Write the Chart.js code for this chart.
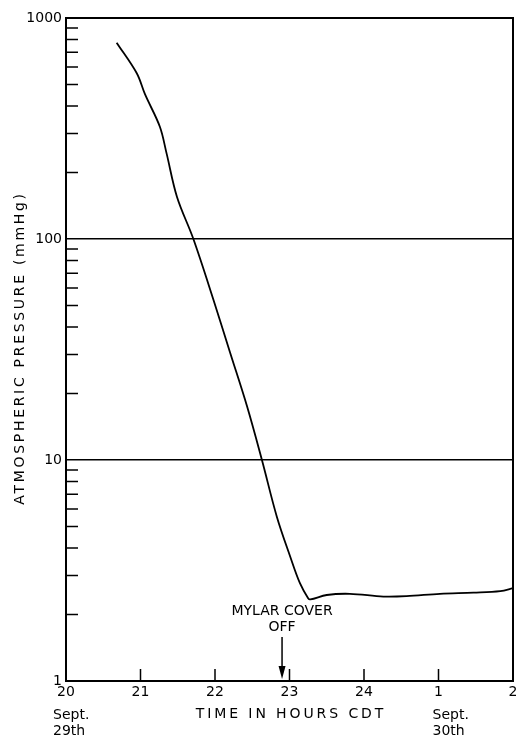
<!DOCTYPE html>
<html><head><meta charset="utf-8">
<script src="https://cdn.jsdelivr.net/npm/chart.js@4/dist/chart.umd.min.js"></script>
<style>html,body{margin:0;padding:0;background:#fff}</style>
</head><body>
<canvas id="c" width="516" height="738"></canvas>
<script>
// Time in hours CDT (24 = midnight, 25 = 1 on Sept. 30th, 26 = 2)
const timeHours = [20.68, 20.95, 21.06, 21.26, 21.35, 21.49, 21.71, 21.98, 22.20, 22.43, 22.63, 22.83, 23.01, 23.14, 23.25, 23.28, 23.50, 23.81, 24.26, 24.57, 25.02, 25.47, 25.83, 26.0];
// Atmospheric pressure (mmHg)
const pressure = [773, 562, 452, 322, 244, 155, 100, 53, 30.8, 17.5, 10, 5.54, 3.65, 2.77, 2.37, 2.34, 2.45, 2.48, 2.41, 2.42, 2.48, 2.51, 2.55, 2.63];
const xTickLabels = ['20', '21', '22', '23', '24', '1', '2'];
const yTickLabels = ['1', '10', '100', '1000'];
const dateLabels = [['Sept.', '29th'], ['Sept.', '30th']];
const dateLabelTimes = [20, 25];
const arrowTime = 22.9;
const annotationLines = ['MYLAR COVER', 'OFF'];
const xTitle = 'TIME IN HOURS CDT';
const yTitle = 'ATMOSPHERIC PRESSURE (mmHg)';

const FONT = '"DejaVu Sans", Verdana, sans-serif';

const extras = {
  id: 'extras',
  afterDraw(chart) {
    const ctx = chart.ctx, ca = chart.chartArea;
    const xs = chart.scales.x, ys = chart.scales.y;
    ctx.save();
    ctx.strokeStyle = '#000'; ctx.fillStyle = '#000';
    // top & right frame
    ctx.lineWidth = 2;
    ctx.beginPath();
    ctx.moveTo(ca.left, ca.top); ctx.lineTo(ca.right, ca.top); ctx.lineTo(ca.right, ca.bottom);
    ctx.stroke();
    // inward minor ticks on y
    ctx.lineWidth = 1.5;
    ctx.beginPath();
    for (let k = 0; k < 3; k++) {
      for (let d = 2; d <= 9; d++) {
        const y = ys.getPixelForValue(d * Math.pow(10, k));
        ctx.moveTo(ca.left, y); ctx.lineTo(ca.left + 12, y);
      }
    }
    // inward ticks on x
    for (let v = 21; v <= 25; v++) {
      const x = xs.getPixelForValue(v);
      ctx.moveTo(x, ca.bottom); ctx.lineTo(x, ca.bottom - 12);
    }
    ctx.stroke();
    // arrow
    const ax = xs.getPixelForValue(arrowTime);
    ctx.beginPath();
    ctx.moveTo(ax, ca.bottom - 44); ctx.lineTo(ax, ca.bottom - 12);
    ctx.stroke();
    ctx.beginPath();
    ctx.moveTo(ax - 3.5, ca.bottom - 15); ctx.lineTo(ax + 3.5, ca.bottom - 15); ctx.lineTo(ax, ca.bottom - 2);
    ctx.closePath(); ctx.fill();
    // annotation text
    ctx.font = '14px ' + FONT;
    ctx.textAlign = 'center'; ctx.textBaseline = 'middle';
    ctx.fillText(annotationLines[0], ax, ca.bottom - 70);
    ctx.fillText(annotationLines[1], ax, ca.bottom - 54);
    // date labels
    ctx.font = '14px ' + FONT;
    ctx.textAlign = 'left';
    const offs = [-13, -6];
    dateLabels.forEach((lines, i) => {
      const x = xs.getPixelForValue(dateLabelTimes[i]) + offs[i];
      ctx.fillText(lines[0], x, ca.bottom + 34);
      ctx.fillText(lines[1], x, ca.bottom + 50);
    });
    // axis titles with letter spacing
    ctx.font = '14px ' + FONT;
    ctx.textAlign = 'center';
    try { ctx.letterSpacing = '2.9px'; } catch (e) {}
    ctx.fillText(xTitle, (ca.left + ca.right) / 2 + 1.5, ca.bottom + 33);
    try { ctx.letterSpacing = '2.7px'; } catch (e) {}
    ctx.translate(20, (ca.top + ca.bottom) / 2);
    ctx.rotate(-Math.PI / 2);
    ctx.fillText(yTitle, 1.5, 0);
    ctx.restore();
  }
};

new Chart(document.getElementById('c'), {
  type: 'line',
  data: {
    datasets: [{
      data: timeHours.map((t, i) => ({ x: t, y: pressure[i] })),
      borderColor: '#000',
      borderWidth: 1.8,
      pointRadius: 0,
      fill: false,
      tension: 0.35
    }]
  },
  options: {
    responsive: false,
    animation: false,
    devicePixelRatio: 1,
    layout: { padding: { top: 18, right: 3, left: 0, bottom: 0 } },
    plugins: { legend: { display: false }, tooltip: { enabled: false } },
    scales: {
      x: {
        type: 'linear', min: 20, max: 26,
        ticks: {
          stepSize: 1, autoSkip: false, maxRotation: 0, padding: 3,
          color: '#000', font: { family: FONT, size: 14 },
          callback: v => xTickLabels[Math.round(v - 20)]
        },
        grid: { display: false, drawTicks: false },
        border: { display: true, color: '#000', width: 2 },
        afterFit(s) { s.height = 57; s.paddingRight = 0; s.paddingLeft = 0; }
      },
      y: {
        type: 'logarithmic', min: 1, max: 1000,
        ticks: {
          autoSkip: false, padding: 4, color: '#000',
          font: { family: FONT, size: 14 },
          callback: v => {
            const l = Math.log10(v);
            return Math.abs(l - Math.round(l)) < 1e-9 ? yTickLabels[Math.round(l)] : '';
          }
        },
        grid: {
          drawTicks: false, lineWidth: 1.5,
          color: c => (c.tick && (c.tick.value === 10 || c.tick.value === 100)) ? '#000' : 'rgba(0,0,0,0)'
        },
        border: { display: true, color: '#000', width: 2 },
        afterFit(s) { s.width = 66; s.paddingTop = 0; s.paddingBottom = 0; }
      }
    }
  },
  plugins: [extras]
});
</script>
</body></html>
